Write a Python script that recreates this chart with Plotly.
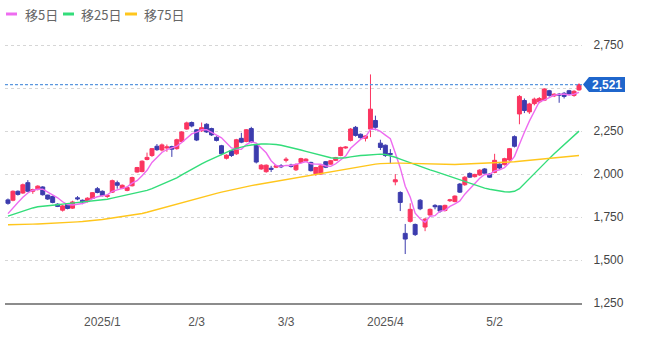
import pandas as pd
import plotly.graph_objects as go

# Trading calendar (TSE closed days removed)
holidays = ["2024-12-31", "2025-01-01", "2025-01-02", "2025-01-03", "2025-01-13",
            "2025-02-11", "2025-02-24", "2025-03-20", "2025-04-29", "2025-05-05", "2025-05-06"]
days = [d.strftime("%Y-%m-%d") for d in pd.bdate_range("2024-12-04", "2025-05-29")
        if d.strftime("%Y-%m-%d") not in holidays]

open_ = [1850, 1848, 1900, 1890, 1950, 1900, 1910, 1925, 1878, 1870,
         1825, 1790, 1825, 1802, 1862, 1848, 1840, 1858, 1915, 1900,
         1870, 1895, 1950, 1918, 1905, 1932, 2012, 2015, 2085, 2108,
         2162, 2140, 2152, 2160, 2148, 2190, 2262, 2300, 2258, 2252,
         2290, 2265, 2214, 2165, 2092, 2136, 2118, 2208, 2190, 2265,
         2170, 2030, 2014, 2034, 2040, 2048, 2080, 2052, 2025, 2068,
         2076, 2068, 2002, 2000, 2072, 2058, 2080, 2108, 2152, 2196,
         2272, 2232, 2208, 2262, 2312, 2180, 2168, 2120, 1955, 1893,
         1655, 1725, 1707, 1848, 1692, 1762, 1818, 1815, 1788, 1845,
         1840, 1942, 1938, 2004, 1985, 1995, 2030, 2000, 2010, 2058,
         2055, 2082, 2218, 2350, 2428, 2362, 2410, 2420, 2430, 2485,
         2455, 2465, 2470, 2485, 2458, 2490]
high = [1858, 1905, 1905, 1945, 1965, 1915, 1935, 1930, 1880, 1875,
        1830, 1820, 1830, 1845, 1872, 1852, 1865, 1895, 1925, 1905,
        1882, 1968, 1962, 1940, 1928, 1985, 2042, 2080, 2125, 2152,
        2175, 2178, 2172, 2165, 2206, 2250, 2305, 2306, 2262, 2300,
        2296, 2270, 2220, 2170, 2115, 2140, 2205, 2240, 2262, 2275,
        2175, 2058, 2056, 2048, 2054, 2058, 2098, 2060, 2062, 2095,
        2092, 2072, 2042, 2052, 2076, 2082, 2100, 2160, 2162, 2268,
        2280, 2236, 2226, 2580, 2340, 2200, 2172, 2145, 2000, 1900,
        1710, 1830, 1712, 1855, 1745, 1800, 1825, 1820, 1822, 1856,
        1876, 1948, 1988, 2010, 2002, 2028, 2035, 2005, 2118, 2062,
        2095, 2152, 2225, 2460, 2440, 2415, 2445, 2448, 2500, 2490,
        2470, 2472, 2478, 2490, 2488, 2528]
low = [1822, 1842, 1875, 1885, 1895, 1885, 1905, 1875, 1850, 1830,
       1808, 1782, 1795, 1798, 1848, 1825, 1835, 1855, 1888, 1870,
       1862, 1890, 1915, 1912, 1900, 1928, 2008, 2010, 2080, 2100,
       2135, 2132, 2130, 2100, 2142, 2185, 2258, 2272, 2192, 2245,
       2240, 2222, 2190, 2110, 2085, 2100, 2112, 2180, 2185, 2180,
       2062, 2025, 2008, 2012, 2035, 2035, 2068, 2038, 2018, 2062,
       2070, 2015, 1990, 1996, 2035, 2054, 2076, 2104, 2148, 2190,
       2218, 2206, 2190, 2215, 2255, 2140, 2100, 2060, 1935, 1785,
       1535, 1718, 1640, 1790, 1668, 1755, 1795, 1775, 1782, 1838,
       1836, 1890, 1932, 1978, 1980, 1990, 1998, 1978, 2005, 2028,
       2050, 2078, 2155, 2290, 2355, 2350, 2400, 2412, 2425, 2450,
       2448, 2415, 2440, 2458, 2450, 2485]
close = [1830, 1900, 1882, 1938, 1900, 1910, 1930, 1880, 1855, 1835,
         1812, 1815, 1800, 1838, 1856, 1838, 1860, 1892, 1893, 1875,
         1876, 1962, 1935, 1935, 1922, 1980, 2038, 2075, 2097, 2148,
         2142, 2170, 2158, 2145, 2200, 2245, 2298, 2280, 2198, 2270,
         2245, 2228, 2196, 2118, 2110, 2108, 2200, 2186, 2258, 2186,
         2070, 2052, 2052, 2028, 2048, 2043, 2086, 2045, 2056, 2090,
         2087, 2020, 2038, 2048, 2040, 2078, 2096, 2155, 2157, 2262,
         2225, 2212, 2222, 2378, 2272, 2155, 2108, 2115, 1967, 1835,
         1622, 1795, 1648, 1798, 1738, 1795, 1810, 1785, 1818, 1850,
         1872, 1895, 1982, 1982, 1998, 2023, 2005, 1982, 2080, 2035,
         2090, 2148, 2162, 2452, 2370, 2408, 2436, 2440, 2495, 2458,
         2465, 2460, 2452, 2465, 2482, 2521]

ma5 = [1770, 1805, 1835, 1865, 1890, 1906, 1912, 1912, 1895, 1882,
       1862, 1839, 1823, 1820, 1824, 1829, 1838, 1857, 1868, 1872,
       1879, 1900, 1908, 1917, 1926, 1947, 1962, 1990, 2022, 2068,
       2100, 2126, 2143, 2153, 2163, 2184, 2209, 2234, 2244, 2258,
       2258, 2244, 2227, 2211, 2179, 2152, 2146, 2144, 2172, 2188,
       2180, 2150, 2124, 2078, 2050, 2045, 2051, 2050, 2056, 2064,
       2073, 2060, 2058, 2057, 2047, 2045, 2060, 2083, 2105, 2150,
       2179, 2202, 2216, 2260, 2262, 2248, 2227, 2206, 2123, 2036,
       1929, 1867, 1773, 1740, 1720, 1755, 1758, 1785, 1789, 1812,
       1827, 1844, 1883, 1916, 1946, 1976, 1998, 1998, 2018, 2025,
       2038, 2067, 2103, 2177, 2244, 2308, 2366, 2421, 2430, 2447,
       2459, 2464, 2466, 2460, 2465, 2476]
ma25 = [1755, 1765, 1775, 1785, 1795, 1803, 1810, 1814, 1817, 1820,
        1822, 1825, 1828, 1831, 1834, 1837, 1840, 1843, 1846, 1850,
        1854, 1860, 1866, 1872, 1878, 1884, 1890, 1897, 1905, 1915,
        1927, 1938, 1950, 1963, 1978, 1995, 2012, 2028, 2044, 2060,
        2074, 2088, 2102, 2115, 2128, 2140, 2150, 2158, 2164, 2169,
        2173, 2175, 2176, 2175, 2172, 2168, 2162, 2155, 2148, 2140,
        2132, 2124, 2116, 2108, 2100, 2095, 2092, 2092, 2095, 2100,
        2105, 2108, 2110, 2113, 2115, 2116, 2114, 2108, 2098, 2087,
        2076, 2066, 2055, 2045, 2035, 2025, 2016, 2006, 1996, 1985,
        1974, 1964, 1954, 1944, 1935, 1926, 1918, 1912, 1906, 1901,
        1897, 1896, 1900, 1915, 1945, 1975, 2005, 2035, 2062, 2090,
        2118, 2145, 2170, 2195, 2222, 2250]
ma75 = [1705, 1705, 1706, 1707, 1708, 1709, 1710, 1711, 1712, 1713,
        1714, 1716, 1718, 1720, 1722, 1724, 1726, 1729, 1732, 1736,
        1740, 1744, 1748, 1752, 1756, 1760, 1765, 1771, 1778, 1786,
        1795, 1803, 1812, 1820, 1828, 1836, 1844, 1852, 1860, 1867,
        1874, 1881, 1888, 1895, 1902, 1909, 1915, 1921, 1927, 1933,
        1938, 1943, 1948, 1953, 1958, 1963, 1968, 1973, 1978, 1984,
        1990, 1996, 2001, 2006, 2011, 2016, 2021, 2026, 2031, 2036,
        2041, 2046, 2050, 2054, 2058, 2061, 2063, 2064, 2064, 2064,
        2063, 2062, 2061, 2060, 2059, 2058, 2057, 2056, 2056, 2056,
        2056, 2057, 2058, 2059, 2060, 2061, 2062, 2063, 2064, 2066,
        2068, 2070, 2072, 2075, 2078, 2081, 2084, 2087, 2089, 2092,
        2095, 2097, 2100, 2102, 2105, 2108]

tick_days = ["2025-01-06", "2025-02-03", "2025-03-03", "2025-04-01", "2025-05-02"]
tick_text = ["2025/1", "2/3", "3/3", "2025/4", "5/2"]

# price grid levels; the 2,500 label sits under the latest-price tag
price_ticks = [1250, 1500, 1750, 2000, 2250, 2500, 2750]
price_text = ["1,250", "1,500", "1,750", "2,000", "2,250", "", "2,750"]

ma_names = ["移5日", "移25日", "移75日"]
ma_colors = ["#ee6cf0", "#33dd7a", "#ffc61c"]
up_color = "#fb3560"
down_color = "#3c3cae"

W, H = 654, 338
ML, MR, MT, MB = 5, 72, 28, 35
PW, PH = W - ML - MR, H - MT - MB


def px_x(p):
    return (p - ML) / PW


def px_y(p):
    return (H - MB - p) / PH


fig = go.Figure()

for name, vals, col in zip(ma_names, [ma5, ma25, ma75], ma_colors):
    fig.add_trace(go.Scatter(x=days, y=vals, mode="lines", name=name,
                             line=dict(color=col, width=1.4), showlegend=False,
                             hoverinfo="skip"))

fig.add_trace(go.Candlestick(
    x=days, open=open_, high=high, low=low, close=close,
    increasing=dict(line=dict(color=up_color, width=1), fillcolor=up_color),
    decreasing=dict(line=dict(color=down_color, width=1), fillcolor=down_color),
    showlegend=False,
))

last = close[-1]
shapes = [
    # latest price guide
    dict(type="line", xref="paper", yref="y", x0=0, x1=1, y0=last, y1=last,
         line=dict(color="#5b97de", width=1.3, dash="3px,2px"), layer="above"),
    # latest price tag
    dict(type="path", xref="paper", yref="y", xsizemode="pixel", ysizemode="pixel",
         xanchor=1, yanchor=last,
         path="M 1,0 L 7,7.5 L 43,7.5 L 43,-7.5 L 7,-7.5 Z",
         fillcolor="#1f66cc", line=dict(width=0)),
]

annotations = [
    dict(xref="paper", yref="y", x=px_x(607), y=last, text=f"<b>{last:,}</b>",
         showarrow=False, xanchor="center", yanchor="middle",
         font=dict(color="white", size=12, family="Liberation Sans, Arial")),
]

# custom legend row
leg_items = [(6, 17, 23), (63, 74, 79), (125, 137, 142)]
for (l0, l1, tx), name, col in zip(leg_items, ma_names, ma_colors):
    shapes.append(dict(type="line", xref="paper", yref="paper",
                       x0=px_x(l0), x1=px_x(l1), y0=px_y(14), y1=px_y(14),
                       line=dict(color=col, width=3)))
    annotations.append(dict(xref="paper", yref="paper", x=px_x(tx), y=px_y(14.5),
                            text=name, showarrow=False, xanchor="left",
                            yanchor="middle",
                            font=dict(color="#666666", size=13,
                                      family="Noto Sans CJK JP")))

fig.update_layout(
    width=W, height=H,
    margin=dict(l=ML, r=MR, t=MT, b=MB),
    paper_bgcolor="white", plot_bgcolor="white",
    showlegend=False,
    boxgap=0.2, boxgroupgap=0,
    shapes=shapes, annotations=annotations,
    font=dict(family="Liberation Sans, Arial", size=12, color="#444444"),
    xaxis=dict(
        type="category", range=[-0.6, 115.6],
        rangeslider=dict(visible=False),
        tickmode="array", tickvals=tick_days, ticktext=tick_text,
        showgrid=False, showline=True, linecolor="#8c8c8c", linewidth=2,
        ticks="outside", ticklen=7, tickcolor="rgba(0,0,0,0)",
        tickfont=dict(size=12, color="#555555"),
    ),
    yaxis=dict(
        side="right", range=[1250, 2850],
        tickmode="array", tickvals=price_ticks, ticktext=price_text,
        showgrid=True, gridcolor="#d6d6d6", griddash="3px,3px",
        gridwidth=1, zeroline=False, showline=False,
        ticks="outside", ticklen=8, tickcolor="rgba(0,0,0,0)",
        tickfont=dict(size=12, color="#444444"),
    ),
)

fig.write_html("out.html")
